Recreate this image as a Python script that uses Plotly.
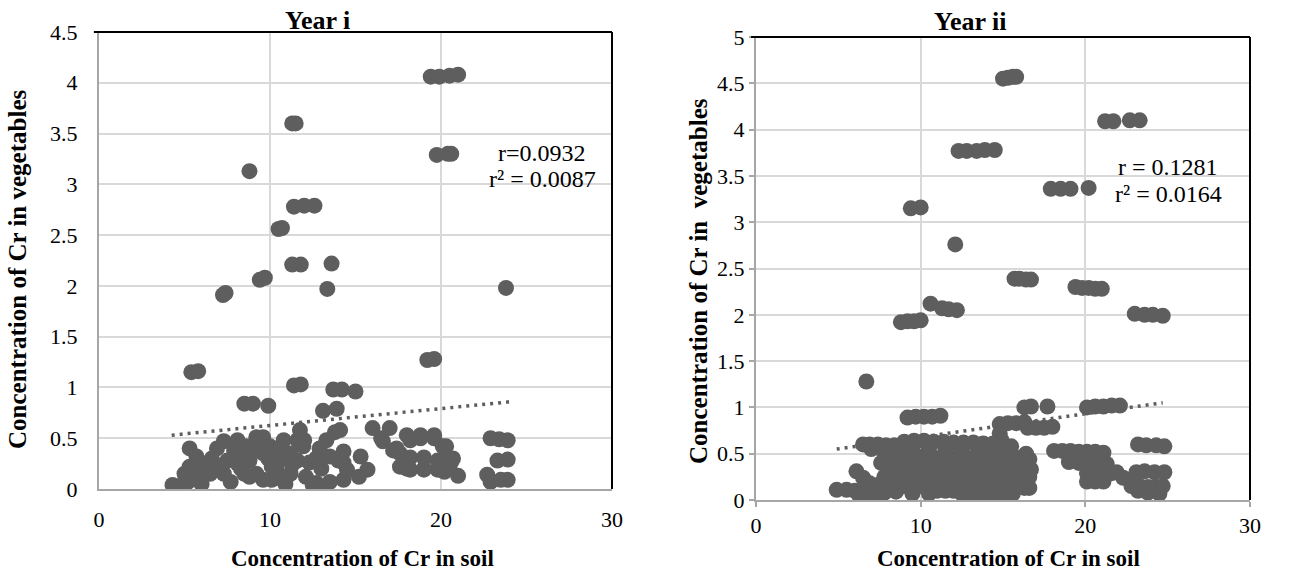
import plotly.graph_objects as go

# ---------------- data ----------------
# Year i  (x = Cr in soil, y = Cr in vegetables)
year1_x = [19.4, 19.9, 20.5, 21.0, 11.3, 11.5, 8.8, 19.75, 20.4, 20.6, 10.5, 10.7,
           11.4, 12.0, 12.6, 11.3, 11.8, 13.6, 9.4, 9.7, 7.25, 7.4, 13.35, 23.8,
           5.4, 5.8, 19.2, 19.6, 11.4, 11.8, 13.7, 14.2, 15.0, 8.5, 9.0, 9.9, 13.1, 13.9,
           5.3, 5.7, 5.3, 4.3, 4.7, 5.2, 5.7, 6.1, 6.9, 7.3, 7.5, 7.7, 8.1, 8.5, 8.8,
           9.2, 9.6, 9.2, 9.6, 10.1, 10.0, 10.8, 10.4, 11.2, 11.6, 11.75, 11.95, 11.2,
           12.3, 12.7, 13.1, 13.5, 13.3, 13.8, 13.5, 14.3, 14.5, 14.3, 15.3, 15.7, 15.2,
           16.0, 17.0, 16.6, 17.2, 17.6, 18.2, 18.8, 19.6, 20.1, 20.3, 20.6, 17.6, 18.2,
           19.0, 19.8, 20.2, 18.2, 19.0, 19.8, 21.0, 22.9, 23.9, 23.4, 23.3, 23.9, 22.7,
           22.9, 23.5, 23.9, 8.6, 9.6, 10.4, 10.8, 11.6, 12.1, 10.1, 8.8, 7.3, 6.5, 5.0,
           14.3, 8.1, 8.5, 12.7, 12.5, 14.1, 6.3, 6.0, 9.4, 10.4, 11.3, 16.5, 17.4, 18.0,
           18.8, 19.6, 20.3, 20.7, 18.0, 19.0, 19.9, 20.5,
           5.8, 6.6, 7.0, 7.9, 8.3, 9.0, 9.9, 10.6, 11.0, 12.0, 12.9, 13.0, 14.0, 10.9]
year1_y = [4.06, 4.06, 4.07, 4.08, 3.60, 3.60, 3.13, 3.29, 3.30, 3.30, 2.56, 2.57,
           2.78, 2.79, 2.79, 2.21, 2.21, 2.22, 2.06, 2.08, 1.91, 1.93, 1.97, 1.98,
           1.15, 1.16, 1.27, 1.28, 1.02, 1.03, 0.98, 0.98, 0.96, 0.84, 0.84, 0.82, 0.77, 0.79,
           0.40, 0.32, 0.22, 0.04, 0.03, 0.07, 0.12, 0.25, 0.40, 0.47, 0.28, 0.07, 0.48, 0.15, 0.28,
           0.51, 0.51, 0.15, 0.09, 0.09, 0.42, 0.48, 0.23, 0.15, 0.48, 0.58, 0.42, 0.35,
           0.26, 0.06, 0.02, 0.07, 0.48, 0.56, 0.32, 0.37, 0.19, 0.09, 0.32, 0.19, 0.12,
           0.60, 0.60, 0.47, 0.38, 0.35, 0.48, 0.50, 0.50, 0.42, 0.28, 0.27, 0.22, 0.19,
           0.19, 0.19, 0.17, 0.31, 0.31, 0.28, 0.13, 0.50, 0.48, 0.49, 0.28, 0.29, 0.14,
           0.07, 0.09, 0.09, 0.42, 0.35, 0.35, 0.12, 0.28, 0.12, 0.22, 0.12, 0.15, 0.15, 0.15,
           0.26, 0.25, 0.35, 0.30, 0.04, 0.58, 0.20, 0.05, 0.40, 0.11, 0.24, 0.50, 0.40, 0.53,
           0.53, 0.53, 0.42, 0.30, 0.20, 0.20, 0.20, 0.20,
           0.20, 0.30, 0.22, 0.38, 0.20, 0.40, 0.30, 0.40, 0.30, 0.48, 0.40, 0.20, 0.28, 0.05]

# Year ii
year2_x = [15.0, 15.3, 15.6, 15.8, 21.2, 21.7, 22.7, 23.3, 12.3, 12.8, 13.4, 13.9, 14.5,
           17.9, 18.5, 19.1, 20.2, 9.4, 10.0, 12.1, 15.7, 16.0, 16.4, 16.7,
           19.4, 19.8, 20.2, 20.6, 21.0, 10.6, 11.3, 11.7, 12.2, 23.0, 23.6, 24.1, 24.7,
           8.8, 9.2, 9.6, 10.0, 6.7, 9.2, 9.7, 10.2, 10.7, 11.2, 16.3, 16.7, 17.7,
           20.1, 20.6, 21.1, 21.6, 22.1, 14.8, 15.3, 15.8, 16.3, 14.8, 14.9,
           16.5, 17.0, 17.5, 18.0, 6.5, 6.9, 7.4, 7.9, 8.4, 23.2, 23.7, 24.3, 24.8,
           18.1, 18.6, 19.1, 19.6, 20.1, 20.6, 21.1, 19.0, 19.6, 20.2, 20.8, 21.3,
           20.1, 20.6, 21.1, 21.6, 21.9, 20.1, 20.6, 21.1, 22.3, 22.8, 23.3, 23.8, 24.3, 24.7,
           23.1, 23.6, 24.2, 24.8, 24.5, 23.8, 23.2,
           4.9, 5.5, 6.0, 6.6, 7.2, 7.8, 8.5, 6.1, 6.5, 6.9, 7.5, 8.1, 8.7, 6.3, 7.0, 7.6, 7.6, 8.0,
           9.0, 9.6, 10.2, 10.8, 11.4, 12.0, 12.6, 13.2, 13.8, 14.4,
           7.0, 7.6, 8.2, 8.8, 9.5, 10.5, 11.5, 12.5, 13.5, 14.5, 15.2,
           8.0, 8.6, 9.2, 10.0, 11.0, 12.0, 13.0, 14.0, 15.0, 16.0, 16.6,
           8.2, 9.0, 10.0, 11.0, 12.0, 13.0, 14.0, 15.0, 16.0, 16.7,
           7.8, 8.5, 9.5, 10.5, 11.5, 12.5, 13.5, 14.5, 15.5, 16.2,
           8.0, 9.0, 10.0, 11.0, 12.0, 13.0, 14.0, 15.0, 16.0, 16.6,
           9.5, 10.5, 12.5, 13.5, 14.0, 14.6, 15.1, 15.6, 13.0, 14.0, 14.8, 15.3,
           16.3, 16.6,
           9.5, 10.5, 11.5, 12.5, 13.5, 14.5, 15.5,
           8.6, 9.6, 10.5, 11.5, 12.5, 13.5, 14.5, 15.5, 16.4,
           8.5, 9.5, 10.5, 11.5, 12.5, 13.5, 14.5, 15.5,
           9.0, 10.0, 11.0, 12.0, 13.0, 14.0, 15.0, 16.0,
           8.5, 9.5, 10.5, 11.5, 12.5, 13.5, 14.5, 15.5,
           11.0, 11.5, 12.0, 16.0, 16.4]
year2_y = [4.55, 4.56, 4.57, 4.57, 4.09, 4.09, 4.10, 4.10, 3.77, 3.77, 3.77, 3.78, 3.78,
           3.36, 3.36, 3.36, 3.37, 3.15, 3.16, 2.76, 2.39, 2.39, 2.38, 2.38,
           2.30, 2.29, 2.29, 2.28, 2.28, 2.12, 2.07, 2.06, 2.05, 2.01, 2.00, 2.00, 1.99,
           1.92, 1.93, 1.93, 1.94, 1.28, 0.89, 0.90, 0.90, 0.90, 0.91, 1.00, 1.01, 1.01,
           1.00, 1.01, 1.01, 1.02, 1.02, 0.82, 0.83, 0.83, 0.84, 0.72, 0.65,
           0.78, 0.78, 0.78, 0.79, 0.60, 0.60, 0.60, 0.59, 0.59, 0.60, 0.59, 0.59, 0.58,
           0.53, 0.53, 0.53, 0.52, 0.52, 0.52, 0.51, 0.41, 0.40, 0.40, 0.40, 0.39,
           0.29, 0.29, 0.29, 0.29, 0.30, 0.20, 0.20, 0.20, 0.24, 0.15, 0.15, 0.14, 0.14, 0.15,
           0.30, 0.31, 0.30, 0.30, 0.07, 0.08, 0.10,
           0.11, 0.11, 0.10, 0.10, 0.09, 0.08, 0.09, 0.31, 0.24, 0.18, 0.17, 0.16, 0.15, 0.04, 0.04, 0.05, 0.40, 0.43,
           0.63, 0.64, 0.64, 0.63, 0.63, 0.62, 0.62, 0.62, 0.61, 0.61,
           0.55, 0.55, 0.55, 0.56, 0.55, 0.55, 0.55, 0.55, 0.55, 0.55, 0.56,
           0.45, 0.45, 0.45, 0.46, 0.45, 0.45, 0.45, 0.45, 0.45, 0.45, 0.44,
           0.35, 0.35, 0.35, 0.35, 0.35, 0.35, 0.35, 0.35, 0.35, 0.33,
           0.25, 0.25, 0.25, 0.25, 0.25, 0.25, 0.25, 0.25, 0.25, 0.25,
           0.15, 0.15, 0.15, 0.15, 0.15, 0.15, 0.15, 0.15, 0.15, 0.13,
           0.07, 0.07, 0.07, 0.07, 0.07, 0.07, 0.07, 0.07, 0.02, 0.02, 0.02, 0.02,
           0.13, 0.25,
           0.60, 0.60, 0.60, 0.60, 0.60, 0.58, 0.58,
           0.50, 0.50, 0.50, 0.50, 0.50, 0.50, 0.50, 0.50, 0.50,
           0.40, 0.40, 0.40, 0.40, 0.40, 0.40, 0.40, 0.40,
           0.30, 0.30, 0.30, 0.30, 0.30, 0.30, 0.30, 0.30,
           0.20, 0.20, 0.20, 0.20, 0.20, 0.20, 0.20, 0.20,
           0.10, 0.10, 0.10, 0.38, 0.20]

# linear trend lines (end points)
trend1_x = [4.25, 24.1]
trend1_y = [0.53, 0.86]
trend2_x = [4.9, 24.7]
trend2_y = [0.55, 1.05]

x_ticks = [0, 10, 20, 30]
x_ticklabels = ["0", "10", "20", "30"]
y1_ticks = [0, 0.5, 1, 1.5, 2, 2.5, 3, 3.5, 4, 4.5]
y1_ticklabels = ["0", "0.5", "1", "1.5", "2", "2.5", "3", "3.5", "4", "4.5"]
y2_ticks = [0, 0.5, 1, 1.5, 2, 2.5, 3, 3.5, 4, 4.5, 5]
y2_ticklabels = ["0", "0.5", "1", "1.5", "2", "2.5", "3", "3.5", "4", "4.5", "5"]

titles = ["Year i", "Year ii"]
x_title = "Concentration of Cr in soil"
y1_title = "Concentration of Cr in vegetables"
y2_title = "Concentration of Cr in  vegetables"
stats1 = ["r=0.0932", "r² = 0.0087"]
stats2 = ["r = 0.1281", "r² = 0.0164"]

# ---------------- figure ----------------
FONT = "Liberation Serif"
MARK = "#5E5E5E"
GRID = "#D9D9D9"
AXL = "#A6A6A6"
W, H = 1291, 573

fig = go.Figure()
fig.add_trace(go.Scatter(x=year1_x, y=year1_y, mode="markers", xaxis="x", yaxis="y",
                         marker=dict(size=16, color=MARK), showlegend=False))
fig.add_trace(go.Scatter(x=trend1_x, y=trend1_y, mode="lines", xaxis="x", yaxis="y",
                         line=dict(color=MARK, width=3.5, dash="3px,5px"), showlegend=False))
fig.add_trace(go.Scatter(x=year2_x, y=year2_y, mode="markers", xaxis="x2", yaxis="y2",
                         marker=dict(size=16, color=MARK), showlegend=False))
fig.add_trace(go.Scatter(x=trend2_x, y=trend2_y, mode="lines", xaxis="x2", yaxis="y2",
                         line=dict(color=MARK, width=3.5, dash="3px,5px"), showlegend=False))

tickfont = dict(family=FONT, size=22, color="#000000")

common_x = dict(range=[0, 30], tickvals=x_ticks, ticktext=x_ticklabels, showgrid=True,
                gridcolor=GRID, gridwidth=1.5, zeroline=False, showline=True,
                linecolor=AXL, linewidth=2, tickfont=tickfont, automargin=False)
common_y = dict(showgrid=True, gridcolor=GRID, gridwidth=1.5, zeroline=False,
                showline=True, linecolor=AXL, linewidth=2, tickfont=tickfont,
                automargin=False)

fig.update_layout(
    width=W, height=H,
    margin=dict(l=0, r=0, t=0, b=0, autoexpand=False),
    paper_bgcolor="white", plot_bgcolor="white",
    font=dict(family=FONT, color="#000000"),
    xaxis=dict(domain=[99/W, 612/W], anchor="y", ticks="outside", ticklen=10,
               tickcolor="rgba(0,0,0,0)", **common_x),
    yaxis=dict(domain=[1-489/H, 1-32/H], anchor="x", range=[0, 4.5],
               tickvals=y1_ticks, ticktext=y1_ticklabels,
               ticks="outside", ticklen=15, tickcolor="rgba(0,0,0,0)", **common_y),
    xaxis2=dict(domain=[756/W, 1250/W], anchor="y2", ticks="outside", ticklen=5,
                tickcolor=AXL, tickwidth=1.5, **common_x),
    yaxis2=dict(domain=[1-500/H, 1-37/H], anchor="x2", range=[0, 5],
                tickvals=y2_ticks, ticktext=y2_ticklabels,
                ticks="outside", ticklen=5, tickcolor=AXL, tickwidth=1.5, **common_y),
)

# black top and right frame lines
for xr, yr in (("x", "y"), ("x2", "y2")):
    fig.add_shape(type="line", xref=f"{xr} domain", yref=f"{yr} domain",
                  x0=-0.01, x1=1, y0=1, y1=1, line=dict(color="#000000", width=2))
    fig.add_shape(type="line", xref=f"{xr} domain", yref=f"{yr} domain",
                  x0=1, x1=1, y0=0, y1=1, line=dict(color="#000000", width=2))


def paper_text(text, px, py, size, angle=0):
    return dict(text=text, x=px/W, y=1-py/H, xref="paper", yref="paper",
                xanchor="center", yanchor="middle", showarrow=False, textangle=angle,
                font=dict(family=FONT, size=size, color="#000000"))


ann = [
    paper_text(f"<b>{titles[0]}</b>", 317, 21, 26),
    paper_text(f"<b>{titles[1]}</b>", 970, 22, 26),
    paper_text(f"<b>{x_title}</b>", 362, 558, 23),
    paper_text(f"<b>{x_title}</b>", 1008, 558, 23),
    paper_text(f"<b>{y1_title}</b>", 18, 270, 25, -90),
    paper_text(f"<b>{y2_title}</b>", 698, 281, 25, -90),
    paper_text(stats1[0], 542, 153, 24),
    paper_text(stats1[1], 542, 179, 24),
    paper_text(stats2[0], 1168, 167, 24),
    paper_text(stats2[1], 1168, 194, 24),
]
fig.update_layout(annotations=ann)

fig.write_html("out.html", config={"displayModeBar": False},
               post_script="document.body.style.margin='0';document.body.style.overflow='hidden';")
